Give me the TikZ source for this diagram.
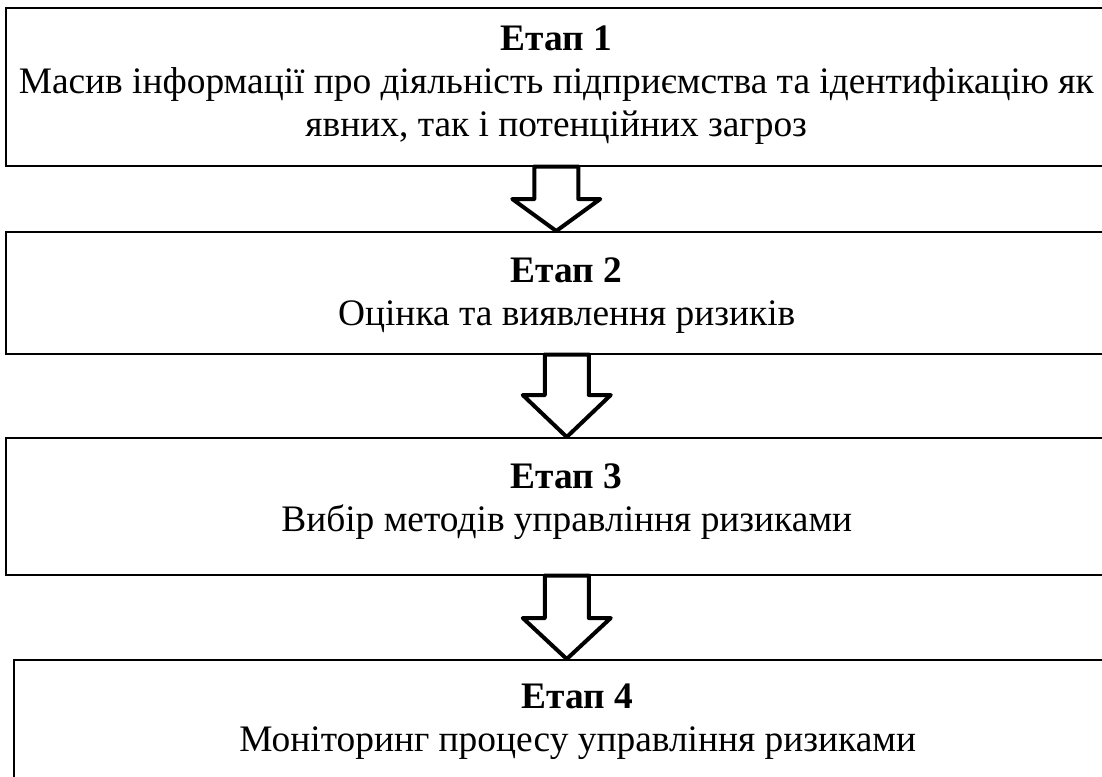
\documentclass[tikz,border=0pt]{standalone}
\usepackage{fontspec}
\setmainfont{Liberation Serif}
\usetikzlibrary{calc,positioning}

\begin{document}
\begin{tikzpicture}[x=0.5pt, y=-0.5pt,
	stage/.style={draw, rectangle, line width=0.75pt, anchor=north west, inner sep=0pt},
	stagetext/.style={inner sep=0pt, align=center, font=\fontsize{18.7pt}{21.5pt}\selectfont},
	blockarrow/.style={draw, fill=white, line width=2pt, line join=round}]

	\useasboundingbox (0,0) rectangle (1102,776);
	\clip (0,0) rectangle (1102,776);

	\node[stage, minimum width=550.5pt, minimum height=79pt] (b1) at (5,7) {};
	\node[stage, minimum width=561pt, minimum height=61pt] (b2) at (5,231) {};
	\node[stage, minimum width=561pt, minimum height=68.5pt] (b3) at (5,437) {};
	\node[stage, minimum width=564pt, minimum height=70pt] (b4) at (13,659) {};

	\node[stagetext, below=9pt of b1.north] (t1) {\textbf{Етап 1}\\Масив інформації про діяльність підприємства та ідентифікацію як\\явних, так і потенційних загроз};
	\node[stagetext, below=13pt of b2.north] (t2) {\textbf{Етап 2}\\Оцінка та виявлення ризиків};
	\node[stagetext, below=13pt of b3.north] (t3) {\textbf{Етап 3}\\Вибір методів управління ризиками};
	\node[stagetext, below=12pt of b4.north] (t4) {\textbf{Етап 4}\\Моніторинг процесу управління ризиками};

	\foreach \a/\b/\h in {b1/b2/32, b2/b3/42, b3/b4/41}
		\draw[blockarrow] ($(\a.south)+(-22,0)$) -- ++(44,0) -- ($(\a.south |- \b.north)+(22,-\h)$) -- ++(22,0) -- (\a.south |- \b.north) -- ++(-44,-\h) -- ++(22,0) -- cycle;
\end{tikzpicture}
\end{document}
